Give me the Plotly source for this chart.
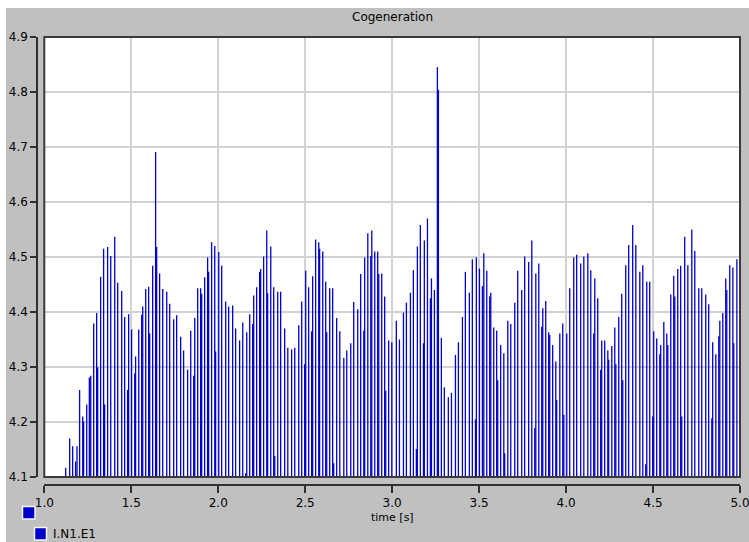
import plotly.graph_objects as go

# Sample times [s] and values of signal I.N1.E1
times = [
    1.123, 1.146, 1.163, 1.180, 1.188, 1.203, 1.221, 1.226, 1.244, 1.259,
    1.267, 1.284, 1.301, 1.307, 1.324, 1.341, 1.347, 1.364, 1.382, 1.405,
    1.422, 1.445, 1.462, 1.479, 1.485, 1.502, 1.520, 1.525, 1.543, 1.560,
    1.566, 1.583, 1.600, 1.606, 1.623, 1.640, 1.646, 1.663, 1.681, 1.704,
    1.721, 1.744, 1.761, 1.784, 1.801, 1.824, 1.842, 1.859, 1.865, 1.882,
    1.899, 1.905, 1.922, 1.939, 1.945, 1.962, 1.980, 1.985, 2.003, 2.020,
    2.043, 2.060, 2.083, 2.100, 2.123, 2.141, 2.158, 2.164, 2.181, 2.198,
    2.204, 2.221, 2.238, 2.244, 2.261, 2.279, 2.284, 2.302, 2.319, 2.325,
    2.342, 2.359, 2.382, 2.400, 2.422, 2.440, 2.463, 2.480, 2.497, 2.503,
    2.520, 2.537, 2.543, 2.560, 2.578, 2.583, 2.601, 2.618, 2.624, 2.641,
    2.658, 2.664, 2.681, 2.699, 2.722, 2.739, 2.762, 2.779, 2.802, 2.819,
    2.837, 2.842, 2.860, 2.877, 2.883, 2.900, 2.917, 2.923, 2.940, 2.957,
    2.963, 2.980, 2.998, 3.024, 3.042, 3.065, 3.082, 3.105, 3.122, 3.139,
    3.145, 3.162, 3.180, 3.185, 3.203, 3.220, 3.226, 3.243, 3.260, 3.266,
    3.283, 3.300, 3.323, 3.341, 3.364, 3.381, 3.404, 3.421, 3.444, 3.461,
    3.479, 3.484, 3.502, 3.519, 3.527, 3.544, 3.561, 3.567, 3.584, 3.601,
    3.607, 3.624, 3.642, 3.647, 3.665, 3.682, 3.705, 3.722, 3.745, 3.762,
    3.785, 3.803, 3.820, 3.826, 3.843, 3.860, 3.866, 3.883, 3.900, 3.906,
    3.923, 3.941, 3.946, 3.964, 3.981, 3.987, 4.004, 4.021, 4.044, 4.061,
    4.084, 4.102, 4.125, 4.142, 4.159, 4.165, 4.182, 4.199, 4.205, 4.222,
    4.240, 4.245, 4.263, 4.280, 4.286, 4.303, 4.320, 4.326, 4.343, 4.360,
    4.383, 4.401, 4.424, 4.441, 4.458, 4.464, 4.481, 4.498, 4.504, 4.521,
    4.539, 4.544, 4.562, 4.579, 4.585, 4.602, 4.619, 4.625, 4.642, 4.659,
    4.665, 4.682, 4.700, 4.723, 4.740, 4.763, 4.780, 4.803, 4.820, 4.838,
    4.843, 4.861, 4.878, 4.884, 4.901, 4.918, 4.924, 4.941, 4.959, 4.964,
    4.982,
]

values = [
    4.117, 4.170, 4.156, 4.128, 4.156, 4.258, 4.210, 4.201, 4.232, 4.281,
    4.284, 4.379, 4.398, 4.299, 4.464, 4.515, 4.232, 4.518, 4.502, 4.537,
    4.453, 4.438, 4.391, 4.258, 4.396, 4.368, 4.288, 4.319, 4.368, 4.395,
    4.410, 4.442, 4.446, 4.361, 4.484, 4.691, 4.518, 4.470, 4.442, 4.437,
    4.415, 4.387, 4.394, 4.355, 4.330, 4.295, 4.366, 4.284, 4.389, 4.443,
    4.443, 4.433, 4.463, 4.499, 4.473, 4.527, 4.520, 4.328, 4.509, 4.484,
    4.419, 4.410, 4.412, 4.370, 4.348, 4.381, 4.107, 4.363, 4.396, 4.378,
    4.430, 4.445, 4.473, 4.478, 4.501, 4.548, 4.434, 4.519, 4.445, 4.138,
    4.437, 4.437, 4.370, 4.335, 4.332, 4.335, 4.376, 4.419, 4.305, 4.475,
    4.445, 4.365, 4.465, 4.532, 4.527, 4.515, 4.510, 4.455, 4.363, 4.443,
    4.443, 4.125, 4.389, 4.365, 4.317, 4.330, 4.343, 4.418, 4.405, 4.469,
    4.366, 4.499, 4.543, 4.502, 4.548, 4.510, 4.510, 4.469, 4.470, 4.428,
    4.257, 4.348, 4.345, 4.384, 4.350, 4.399, 4.417, 4.435, 4.476, 4.151,
    4.519, 4.558, 4.343, 4.530, 4.570, 4.425, 4.461, 4.440, 4.845, 4.804,
    4.353, 4.263, 4.245, 4.253, 4.322, 4.345, 4.391, 4.473, 4.435, 4.496,
    4.205, 4.499, 4.479, 4.447, 4.507, 4.475, 4.428, 4.435, 4.372, 4.366,
    4.276, 4.340, 4.325, 4.143, 4.384, 4.378, 4.417, 4.475, 4.440, 4.501,
    4.491, 4.530, 4.189, 4.470, 4.488, 4.373, 4.407, 4.420, 4.363, 4.358,
    4.340, 4.310, 4.240, 4.361, 4.379, 4.213, 4.361, 4.443, 4.499, 4.504,
    4.488, 4.501, 4.507, 4.476, 4.361, 4.461, 4.425, 4.295, 4.348, 4.348,
    4.330, 4.313, 4.338, 4.372, 4.305, 4.391, 4.433, 4.276, 4.485, 4.522,
    4.558, 4.522, 4.473, 4.485, 4.123, 4.455, 4.455, 4.210, 4.365, 4.352,
    4.323, 4.340, 4.382, 4.361, 4.340, 4.432, 4.466, 4.428, 4.478, 4.484,
    4.210, 4.537, 4.485, 4.550, 4.511, 4.443, 4.443, 4.432, 4.414, 4.207,
    4.345, 4.323, 4.356, 4.384, 4.398, 4.461, 4.440, 4.485, 4.481, 4.343,
    4.496,
]

series_name = "I.N1.E1"
chart_title = "Cogeneration"
x_title = "time [s]"
y_min, y_max = 4.1, 4.9
x_min, x_max = 1.0, 5.0

W, H = 749, 542
# margins of the paper region (pixels)
ML, MR, MT, MB = 37, 9, 37, 57
PW, PH = W - ML - MR, H - MT - MB


def px_x(p):
    return (p - ML) / PW


def px_y(p):
    return (H - MB - p) / PH


# stems from the bottom of the value axis up to each sample
stem_x, stem_y = [], []
for t, v in zip(times, values):
    stem_x += [t, t, None]
    stem_y += [y_min, v, None]

blue = "#0000cc"
axis_col = "#303030"
grid_col = "#d2d2d2"
font_fam = "DejaVu Sans"

fig = go.Figure()
fig.add_trace(go.Scatter(
    x=stem_x, y=stem_y, mode="lines", name=series_name,
    line=dict(color=blue, width=1.3), showlegend=False, hoverinfo="skip",
))

fig.update_layout(
    width=W, height=H,
    margin=dict(l=ML, r=MR, t=MT, b=MB, autoexpand=False),
    paper_bgcolor="#c0c0c0",
    plot_bgcolor="#ffffff",
    showlegend=False,
    font=dict(family=font_fam, size=11, color="#000000"),
    xaxis=dict(
        domain=[px_x(44.3), 1.0],
        range=[x_min, x_max], dtick=0.5, tick0=1.0, tickformat=".1f",
        anchor="free", position=0.0,
        showline=True, linecolor=axis_col, linewidth=1.5,
        ticks="outside", ticklen=7, tickwidth=1.5, tickcolor=axis_col,
        ticklabelstandoff=0, ticklabeloverflow="allow",
        showgrid=True, gridcolor=grid_col, gridwidth=1.5,
        zeroline=False, fixedrange=True,
        tickfont=dict(family=font_fam, size=12),
    ),
    yaxis=dict(
        domain=[px_y(477), 1.0],
        range=[y_min, y_max], dtick=0.1, tick0=4.1, tickformat=".1f",
        anchor="free", position=0.0,
        showline=True, linecolor=axis_col, linewidth=1.5,
        ticks="outside", ticklen=6, tickwidth=1.5, tickcolor=axis_col,
        ticklabeloverflow="allow",
        showgrid=True, gridcolor=grid_col, gridwidth=1.5,
        zeroline=False, fixedrange=True,
        tickfont=dict(family=font_fam, size=12),
    ),
)

shapes = [
    # frame around the plotting area
    dict(type="rect", xref="x domain", yref="y domain", x0=0, x1=1, y0=0, y1=1,
         line=dict(color="#3a3a3a", width=2), fillcolor="rgba(0,0,0,0)",
         layer="above"),
    # thin white edges of the window
    dict(type="rect", xref="paper", yref="paper",
         x0=px_x(0), x1=px_x(W), y0=px_y(8), y1=px_y(0),
         line=dict(width=0), fillcolor="#ffffff", layer="above"),
    dict(type="rect", xref="paper", yref="paper",
         x0=px_x(0), x1=px_x(6), y0=px_y(H), y1=px_y(0),
         line=dict(width=0), fillcolor="#ffffff", layer="above"),
    # legend colour boxes
    dict(type="rect", xref="paper", yref="paper",
         x0=px_x(22.5), x1=px_x(35), y0=px_y(519), y1=px_y(506.5),
         line=dict(color="#f4f4f4", width=1.5), fillcolor="#0000cc",
         layer="above"),
    dict(type="rect", xref="paper", yref="paper",
         x0=px_x(34.5), x1=px_x(46.5), y0=px_y(540), y1=px_y(527.5),
         line=dict(color="#f4f4f4", width=1.5), fillcolor="#0000cc",
         layer="above"),
]
fig.update_layout(shapes=shapes)

annotations = [
    dict(text=chart_title, xref="paper", yref="paper",
         x=px_x(392), y=px_y(17), xanchor="center", yanchor="middle",
         showarrow=False, font=dict(family=font_fam, size=12, color="#000000")),
    dict(text=x_title, xref="paper", yref="paper",
         x=px_x(392), y=px_y(517), xanchor="center", yanchor="middle",
         showarrow=False, font=dict(family=font_fam, size=11, color="#000000")),
    dict(text=series_name, xref="paper", yref="paper",
         x=px_x(51), y=px_y(534), xanchor="left", yanchor="middle",
         showarrow=False, font=dict(family=font_fam, size=12, color="#000000")),
]
fig.update_layout(annotations=annotations)

fig.write_html("out.html")
